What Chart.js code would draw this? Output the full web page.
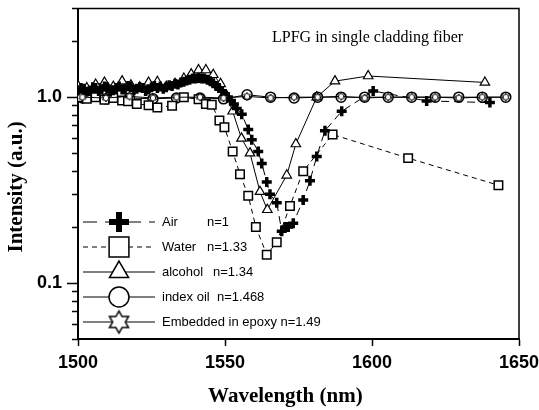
<!DOCTYPE html>
<html>
<head>
<meta charset="utf-8">
<script src="https://cdn.jsdelivr.net/npm/chart.js@4.4.1/dist/chart.umd.min.js"></script>
<style>
  html, body { margin: 0; padding: 0; background: #fff; }
</style>
</head>
<body>
<canvas id="chart" width="539" height="410"></canvas>
<script>
// LPFG transmission in different surrounding media (wavelength nm / intensity a.u.)
const airWl = [1500, 1501, 1502, 1503, 1504, 1505, 1506, 1507, 1508, 1509, 1510, 1511, 1512, 1513, 1514, 1515,
  1516, 1517, 1518, 1519, 1520, 1521, 1522, 1523, 1524, 1525, 1526, 1527, 1528, 1529, 1530, 1531, 1532, 1533,
  1534, 1535, 1536, 1537, 1538, 1539, 1540, 1541, 1542, 1543, 1544, 1545, 1546, 1547, 1548, 1549, 1550, 1551,
  1552, 1553, 1554, 1555.7, 1557.9, 1559.1, 1561.3, 1562.5, 1564.2, 1565.3, 1567.6, 1569.3, 1570.5, 1571.5,
  1573.2, 1576.6, 1578.9, 1581.2, 1584, 1589.7, 1600.4, 1618.6, 1640.1];
const airInt = [1.09, 1.12, 1.11, 1.07, 1.08, 1.13, 1.12, 1.08, 1.10, 1.14, 1.13, 1.07, 1.09, 1.12, 1.14, 1.10,
  1.10, 1.15, 1.14, 1.09, 1.11, 1.13, 1.12, 1.08, 1.10, 1.13, 1.15, 1.12, 1.14, 1.11, 1.13, 1.16, 1.15, 1.18,
  1.17, 1.20, 1.21, 1.23, 1.24, 1.26, 1.26, 1.27, 1.26, 1.26, 1.24, 1.22, 1.19, 1.15, 1.12, 1.08, 1.04, 1.00,
  0.96, 0.92, 0.87, 0.81, 0.67, 0.59, 0.51, 0.44, 0.35, 0.30, 0.27, 0.19, 0.20, 0.20,
  0.21, 0.28, 0.355, 0.48, 0.66, 0.84, 1.08, 0.955, 0.935];

const waterWl = [1500, 1503, 1506, 1509, 1512, 1515, 1517, 1520, 1524, 1527, 1532, 1536, 1541, 1543.5, 1545.5,
  1548.1, 1549.8, 1552.6, 1555.1, 1557.9, 1560.5, 1564.2, 1567.6, 1572.1, 1576.6, 1586.6, 1612.3, 1643];
const waterInt = [1.0, 0.98, 1.0, 0.97, 0.99, 0.96, 0.95, 0.92, 0.905, 0.88, 0.90, 1.0, 0.975, 0.92, 0.91,
  0.75, 0.69, 0.51, 0.385, 0.295, 0.20, 0.142, 0.166, 0.26, 0.40, 0.63, 0.47, 0.336];

const alcoholWl = [1500, 1503, 1506, 1509, 1512, 1515, 1518, 1521, 1524, 1527, 1530, 1533, 1536, 1538.5, 1541,
  1543.5, 1546, 1548.5, 1550.5, 1552.6, 1555.6, 1558.5, 1561.9, 1564.4, 1571, 1574.1, 1581.2, 1587.4,
  1598.7, 1638.4];
const alcoholInt = [1.15, 1.12, 1.17, 1.20, 1.14, 1.22, 1.16, 1.13, 1.20, 1.21, 1.14, 1.18, 1.26, 1.33, 1.40,
  1.40, 1.32, 1.18, 1.02, 0.84, 0.60, 0.50, 0.31, 0.248, 0.38, 0.56, 1.0, 1.22,
  1.30, 1.20];

const oilWl = [1501.5, 1509.5, 1517.5, 1525.5, 1533.5, 1541.5, 1549.5, 1557.5, 1565.5, 1573.5, 1581.5,
  1589.5, 1597.5, 1605.5, 1613.5, 1621.5, 1629.5, 1637.5, 1645.5];
const oilInt = [0.99, 0.98, 0.99, 0.98, 0.99, 0.99, 0.98, 1.03, 1.0, 0.99, 1.0, 1.0, 1.0, 1.0, 1.0, 1.0,
  1.0, 1.0, 1.0];

const epoxyWl = [1501.5, 1509.5, 1517.5, 1525.5, 1533.5, 1541.5, 1549.5, 1557.5, 1565.5, 1573.5, 1581.5,
  1589.5, 1597.5, 1605.5, 1613.5, 1621.5, 1629.5, 1637.5, 1645.5];
const epoxyInt = [1.0, 0.99, 1.01, 0.99, 1.0, 1.0, 0.99, 1.01, 0.99, 1.0, 1.0, 1.01, 0.99, 1.0, 1.0, 1.0,
  0.99, 1.0, 1.0];

const xTicks = [1500, 1550, 1600, 1650];
const yMajorTicks = [0.1, 1];
const yMinorTicks = [0.05, 0.06, 0.07, 0.08, 0.09, 0.2, 0.3, 0.4, 0.5, 0.6, 0.7, 0.8, 0.9, 2, 3];

const legendNames = ['Air', 'Water', 'alcohol', 'index oil', 'Embedded in epoxy n=1.49'];
const legendIndex = ['n=1', 'n=1.33', 'n=1.34', 'n=1.468', ''];

const pairs = (xs, ys) => xs.map((x, i) => ({ x: x, y: ys[i] }));

// hexagram marker, drawn once to an offscreen canvas
function makeStar(r, lw) {
  const size = Math.ceil(2 * r + 2 * lw + 2);
  const c = document.createElement('canvas');
  c.width = size;
  c.height = size;
  const g = c.getContext('2d');
  const cx = size / 2, cy = size / 2;
  g.beginPath();
  for (let i = 0; i < 12; i++) {
    const a = -Math.PI / 2 + i * Math.PI / 6;
    const rr = i % 2 === 0 ? r : r / Math.sqrt(3);
    const px = cx + rr * Math.cos(a), py = cy + rr * Math.sin(a);
    if (i === 0) g.moveTo(px, py); else g.lineTo(px, py);
  }
  g.closePath();
  g.fillStyle = '#fff';
  g.fill();
  g.lineWidth = lw;
  g.strokeStyle = '#000';
  g.stroke();
  return c;
}

const smallStar = makeStar(4, 1);
const bigStar = makeStar(11, 1.5);

const legendMarks = [
  { pointStyle: 'cross', radius: 10, borderWidth: 6, dash: [14, 8] },
  { pointStyle: 'rect', radius: 14, borderWidth: 1.5, dash: [5, 4] },
  { pointStyle: 'triangle', radius: 11, borderWidth: 1.5, dash: [] },
  { pointStyle: 'circle', radius: 10, borderWidth: 1.5, dash: [] },
  { pointStyle: bigStar, radius: 10, borderWidth: 1.5, dash: [] }
];

const insideLegend = {
  id: 'insideLegend',
  afterDatasetsDraw(chart) {
    const ctx = chart.ctx;
    legendNames.forEach((name, i) => {
      const y = 222 + i * 25;
      const m = legendMarks[i];
      ctx.save();
      ctx.strokeStyle = '#000';
      ctx.lineWidth = 1;
      ctx.setLineDash(m.dash);
      ctx.beginPath();
      ctx.moveTo(83, y);
      ctx.lineTo(155, y);
      ctx.stroke();
      ctx.setLineDash([]);
      ctx.fillStyle = '#fff';
      ctx.lineWidth = m.borderWidth;
      Chart.helpers.drawPoint(ctx, { pointStyle: m.pointStyle, radius: m.radius, rotation: 0, borderWidth: m.borderWidth }, 119, y);
      ctx.fillStyle = '#000';
      ctx.font = '13px "Liberation Sans", Arial, sans-serif';
      ctx.textBaseline = 'middle';
      ctx.textAlign = 'left';
      ctx.fillText(name, 162, y);
      const nx = [207, 207, 213, 217, 0][i];
      if (legendIndex[i]) ctx.fillText(legendIndex[i], nx, y);
      ctx.restore();
    });
  }
};

const frameAndNote = {
  id: 'frameAndNote',
  afterDraw(chart) {
    const { ctx, chartArea } = chart;
    ctx.save();
    ctx.strokeStyle = '#000';
    ctx.lineWidth = 1.5;
    ctx.beginPath();
    ctx.moveTo(chartArea.left, chartArea.top);
    ctx.lineTo(chartArea.right, chartArea.top);
    ctx.lineTo(chartArea.right, chartArea.bottom);
    ctx.stroke();
    ctx.fillStyle = '#000';
    ctx.font = '16px "Liberation Serif", "Times New Roman", serif';
    ctx.textBaseline = 'middle';
    ctx.fillText('LPFG in single cladding fiber', 272, 38);
    ctx.restore();
  }
};

// keep the plot box fixed: no extra margin for edge labels
const noEdgePadding = s => {
  s.paddingTop = 0;
  s.paddingBottom = 0;
  s.paddingLeft = 0;
  s.paddingRight = 0;
};

new Chart(document.getElementById('chart'), {
  type: 'line',
  data: {
    datasets: [
      {
        label: 'Air', data: pairs(airWl, airInt),
        borderColor: '#000', borderWidth: 1, borderDash: [8, 5],
        pointStyle: 'cross', pointRadius: 5, pointBorderWidth: 3.5,
        pointBorderColor: '#000', pointBackgroundColor: '#000'
      },
      {
        label: 'Water', data: pairs(waterWl, waterInt),
        borderColor: '#000', borderWidth: 1, borderDash: [5, 4],
        pointStyle: 'rect', pointRadius: 6, pointBorderWidth: 1.5,
        pointBorderColor: '#000', pointBackgroundColor: '#fff'
      },
      {
        label: 'alcohol', data: pairs(alcoholWl, alcoholInt),
        borderColor: '#000', borderWidth: 1,
        pointStyle: 'triangle', pointRadius: 5.5, pointBorderWidth: 1.2,
        pointBorderColor: '#000', pointBackgroundColor: '#fff'
      },
      {
        label: 'index oil', data: pairs(oilWl, oilInt),
        borderColor: '#000', borderWidth: 1,
        pointStyle: 'circle', pointRadius: 5, pointBorderWidth: 1.5,
        pointBorderColor: '#000', pointBackgroundColor: '#fff'
      },
      {
        label: 'Embedded in epoxy', data: pairs(epoxyWl, epoxyInt),
        borderColor: '#000', borderWidth: 1,
        pointStyle: smallStar, pointRadius: 4, order: -1
      }
    ]
  },
  options: {
    responsive: false,
    animation: false,
    layout: { padding: { top: 8, right: 20, left: 0, bottom: 0 } },
    plugins: { legend: { display: false }, tooltip: { enabled: false } },
    scales: {
      x: {
        type: 'linear', min: 1500, max: 1650,
        afterBuildTicks: s => { s.ticks = xTicks.map(v => ({ value: v })); },
        afterFit: s => { s.height = 71; noEdgePadding(s); },
        ticks: {
          color: '#000', padding: 6,
          callback: v => String(v),
          font: { family: '"Liberation Sans", Arial, sans-serif', size: 18, weight: 'bold' }
        },
        grid: { drawOnChartArea: false, tickLength: 7, tickColor: '#000', tickWidth: 1.5 },
        border: { color: '#000', width: 2 },
        title: {
          // trailing spaces nudge the centred title slightly left, as in the original
          display: true, text: 'Wavelength (nm)     ', color: '#000',
          font: { family: '"Liberation Serif", "Times New Roman", serif', size: 21, weight: 'bold' },
          padding: { top: 2, bottom: 1 }
        }
      },
      y: {
        type: 'logarithmic', min: 0.05, max: 3,
        afterBuildTicks: s => { s.ticks = yMajorTicks.map(v => ({ value: v })); },
        afterFit: s => { s.width = 78; noEdgePadding(s); },
        ticks: {
          color: '#000', padding: 5,
          callback: v => (v === 1 ? '1.0' : v === 0.1 ? '0.1' : ''),
          font: { family: '"Liberation Sans", Arial, sans-serif', size: 18, weight: 'bold' }
        },
        grid: { drawOnChartArea: false, tickLength: 11, tickColor: '#000', tickWidth: 1.5 },
        border: { color: '#000', width: 2 },
        title: {
          display: true, text: 'Intensity (a.u.)     ', color: '#000',
          font: { family: '"Liberation Serif", "Times New Roman", serif', size: 21, weight: 'bold' },
          padding: { top: 4, bottom: 2 }
        }
      },
      yMinor: {
        type: 'logarithmic', min: 0.05, max: 3, position: { x: 1500 },
        afterBuildTicks: s => { s.ticks = yMinorTicks.map(v => ({ value: v })); },
        afterFit: noEdgePadding,
        ticks: { callback: () => '' },
        grid: { drawOnChartArea: false, tickLength: 6, tickColor: '#000', tickWidth: 1.5 },
        border: { display: false }
      }
    }
  },
  plugins: [insideLegend, frameAndNote]
});
</script>
</body>
</html>
